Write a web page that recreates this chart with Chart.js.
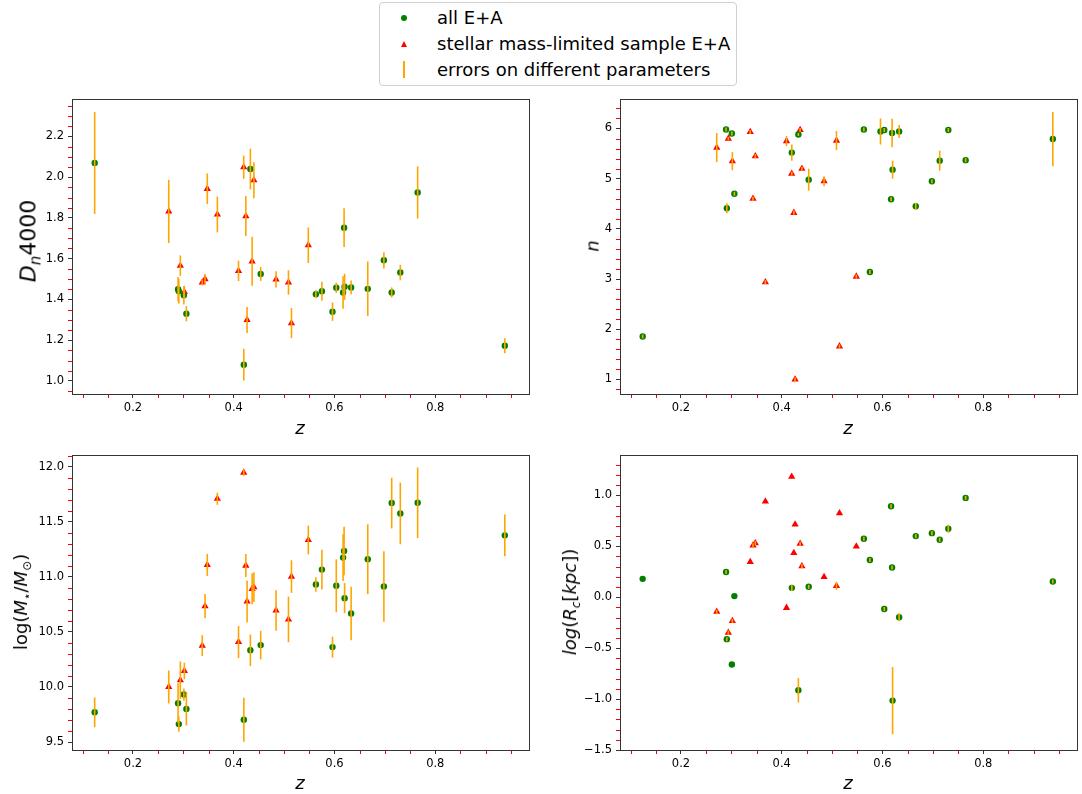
<!DOCTYPE html>
<html>
<head>
<meta charset="utf-8">
<script src="https://cdn.jsdelivr.net/npm/chart.js@4.4.0/dist/chart.umd.min.js"></script>
<style>
  body { margin: 0; background: #fff; font-family: "DejaVu Sans", sans-serif; }
  #wrap { position: relative; width: 1082px; height: 794px; overflow: hidden; }
  canvas { position: absolute; }
  .lab { position: absolute; font-size: 18px; color: #000; white-space: nowrap; transform: translate(-50%, -50%); }
  .ylab { transform: translate(-50%, -50%) rotate(-90deg); }
  .lab sub { font-size: 12px; vertical-align: -4px; }
  #legend { position: absolute; left: 379px; top: 2px; width: 356px; height: 82px; border: 1px solid #d0d0d0; border-radius: 4px; font-size: 18px; }
  .row { position: absolute; left: 57px; height: 26px; line-height: 26px; }
  .mk { position: absolute; }
</style>
</head>
<body>
<div id="wrap">
  <canvas id="c1" width="545" height="350" style="left:0;top:88px"></canvas>
  <canvas id="c2" width="534" height="350" style="left:548px;top:88px"></canvas>
  <canvas id="c3" width="545" height="350" style="left:0;top:444px"></canvas>
  <canvas id="c4" width="534" height="350" style="left:548px;top:444px"></canvas>

  <div class="lab ylab" style="left:30px;top:241px;font-size:22px"><i>D</i><sub style="font-size:15px;vertical-align:-5px"><i>n</i></sub>4000</div>
  <div class="lab ylab" style="left:592px;top:246px"><i>n</i></div>
  <div class="lab ylab" style="left:22px;top:602px">log(<i>M</i><sub>⋆</sub>/<i>M</i><sub>⊙</sub>)</div>
  <div class="lab ylab" style="left:571px;top:602px"><i>log</i>(<i>R</i><sub><i>c</i></sub>[<i>kpc</i>])</div>
  <div class="lab" style="left:300px;top:427px"><i>z</i></div>
  <div class="lab" style="left:848px;top:427px"><i>z</i></div>
  <div class="lab" style="left:300px;top:782px"><i>z</i></div>
  <div class="lab" style="left:848px;top:782px"><i>z</i></div>

  <div id="legend">
    <div class="mk" style="left:21px;top:12px;width:6px;height:6px;border-radius:50%;background:#008000"></div>
    <div class="mk" style="left:21px;top:38px;width:0;height:0;border-left:3px solid transparent;border-right:3px solid transparent;border-bottom:6px solid #ff0000"></div>
    <div class="mk" style="left:23px;top:58px;width:2px;height:17px;background:#ffa500"></div>
    <div class="row" style="top:2px">all E+A</div>
    <div class="row" style="top:28px">stellar mass-limited sample E+A</div>
    <div class="row" style="top:54px">errors on different parameters</div>
  </div>
</div>
<script>
// redshift of each galaxy
const greenZ = [0.124, 0.2895, 0.291, 0.301, 0.306, 0.420, 0.433, 0.4535, 0.563, 0.575, 0.596, 0.6035, 0.617, 0.619, 0.620, 0.633, 0.666, 0.698, 0.7135, 0.7306, 0.765, 0.938];
const redZ = [0.271, 0.294, 0.302, 0.3375, 0.343, 0.3475, 0.3675, 0.4095, 0.4198, 0.424, 0.4265, 0.4365, 0.440, 0.484, 0.5086, 0.5146, 0.548];

// Dn4000
const greenDn = [2.07, 1.45, 1.44, 1.42, 1.33, 1.08, 2.04, 1.525, 1.426, 1.44, 1.34, 1.457, 1.434, 1.752, 1.462, 1.459, 1.452, 1.592, 1.434, 1.532, 1.925, 1.173];
const greenDnErr = [0.25, 0.06, 0.06, 0.045, 0.037, 0.078, 0.10, 0.034, 0.02, 0.047, 0.045, 0.025, 0.08, 0.095, 0.064, 0.034, 0.134, 0.04, 0.025, 0.038, 0.128, 0.037];
const redDn = [1.832, 1.566, 1.437, 1.483, 1.50, 1.943, 1.817, 1.54, 2.049, 1.809, 1.299, 1.587, 1.985, 1.498, 1.483, 1.284, 1.666];
const redDnErr = [0.155, 0.05, 0.03, 0.015, 0.025, 0.075, 0.088, 0.05, 0.057, 0.098, 0.064, 0.12, 0.088, 0.04, 0.06, 0.074, 0.087];

// Sersic index n
const greenN = [1.856, 5.98, 4.41, 5.90, 4.70, 5.52, 5.88, 4.98, 5.98, 3.14, 5.94, 5.97, 4.59, 5.91, 5.18, 5.94, 4.45, 4.95, 5.36, 5.97, 5.37, 5.79];
const greenNErr = [0.04, 0.04, 0.1, 0.04, 0.04, 0.16, 0.03, 0.22, 0.04, 0.04, 0.26, 0.04, 0.04, 0.285, 0.18, 0.13, 0.07, 0.04, 0.2, 0.04, 0.04, 0.54];
const redN = [5.62, 5.80, 5.35, 5.93, 4.60, 5.45, 2.94, 5.75, 5.10, 4.32, 1.0, 5.97, 5.20, 4.95, 5.76, 1.66, 3.05];
const redNErr = [0.29, 0.03, 0.18, 0.04, 0.04, 0.04, 0.04, 0.1, 0.04, 0.04, 0.04, 0.04, 0.04, 0.1, 0.19, 0.04, 0.04];

// log stellar mass
const greenM = [9.77, 9.853, 9.663, 9.932, 9.80, 9.702, 10.333, 10.38, 10.93, 11.065, 10.362, 10.918, 11.174, 11.234, 10.806, 10.667, 11.159, 10.912, 11.669, 11.575, 11.672, 11.376];
const greenMErr = [0.135, 0.18, 0.07, 0.055, 0.15, 0.2, 0.143, 0.13, 0.065, 0.18, 0.095, 0.24, 0.213, 0.22, 0.137, 0.243, 0.317, 0.32, 0.23, 0.28, 0.32, 0.19];
const redM = [10.0, 10.061, 10.145, 10.375, 10.733, 11.108, 11.708, 10.408, 11.946, 11.102, 10.776, 10.891, 10.905, 10.694, 10.613, 11.002, 11.334];
const redMErr = [0.15, 0.17, 0.075, 0.095, 0.11, 0.1, 0.055, 0.146, 0.03, 0.105, 0.19, 0.14, 0.135, 0.184, 0.207, 0.148, 0.13];

// log Rc
const greenR = [0.18, 0.248, -0.412, -0.66, 0.011, 0.092, -0.914, 0.102, 0.574, 0.365, null, -0.116, 0.893, 0.291, -1.015, -0.197, 0.60, 0.629, 0.564, 0.672, 0.975, 0.154];
const greenRErr = [0, 0.02, 0.02, 0, 0, 0.03, 0.12, 0.02, 0.02, 0.02, 0, 0.02, 0.02, 0.02, 0.33, 0.04, 0.02, 0.02, 0.02, 0.04, 0.02, 0.02];
const redR = [-0.143, -0.348, -0.233, 0.346, 0.509, 0.531, 0.941, -0.104, 1.183, 0.434, 0.714, 0.525, 0.304, 0.199, 0.111, 0.824, 0.499];
const redRErr = [0.02, 0.02, 0.02, 0, 0.02, 0.02, 0, 0, 0, 0, 0, 0.02, 0.02, 0, 0.04, 0, 0];

// tick labels
const zTicks = [0.2, 0.4, 0.6, 0.8];
const dnTicks = [1.0, 1.2, 1.4, 1.6, 1.8, 2.0, 2.2];
const nTicks = [1, 2, 3, 4, 5, 6];
const mTicks = [9.5, 10.0, 10.5, 11.0, 11.5, 12.0];
const rTicks = [-1.5, -1.0, -0.5, 0.0, 0.5, 1.0];

function pts(xs, ys) {
  return xs.map((x, i) => ({ x: x, y: ys[i] })).filter(p => p.y !== null);
}
function errs(ys, es) {
  return ys.map((y, i) => es[i]).filter((e, i) => ys[i] !== null);
}

// draw orange error bars on top of the markers
const errorBars = {
  id: 'errorBars',
  afterDatasetsDraw(chart) {
    const ctx = chart.ctx, xs = chart.scales.x, ys = chart.scales.y;
    ctx.save();
    ctx.beginPath();
    ctx.rect(chart.chartArea.left, chart.chartArea.top, chart.chartArea.width, chart.chartArea.height);
    ctx.clip();
    ctx.strokeStyle = '#ffa500';
    ctx.lineWidth = 1.6;
    chart.data.datasets.forEach(ds => {
      if (!ds.errors) return;
      ds.data.forEach((p, i) => {
        const e = ds.errors[i];
        if (!e) return;
        const x = xs.getPixelForValue(p.x);
        ctx.beginPath();
        ctx.moveTo(x, ys.getPixelForValue(p.y - e));
        ctx.lineTo(x, ys.getPixelForValue(p.y + e));
        ctx.stroke();
      });
    });
    ctx.restore();
  }
};

// full frame and red minor ticks
const frameMinor = {
  id: 'frameMinor',
  afterDraw(chart, args, opts) {
    const ctx = chart.ctx, a = chart.chartArea;
    const xs = chart.scales.x, ys = chart.scales.y;
    ctx.save();
    ctx.strokeStyle = '#ff0000';
    ctx.lineWidth = 1;
    const near = (v, arr) => arr.some(t => Math.abs(t - v) < 1e-6);
    let start = Math.ceil(xs.min / opts.xStep - 1e-9);
    for (let k = start; k * opts.xStep <= xs.max; k++) {
      const v = k * opts.xStep;
      if (near(v, zTicks)) continue;
      const px = Math.round(xs.getPixelForValue(v)) + 0.5;
      ctx.beginPath(); ctx.moveTo(px, a.bottom); ctx.lineTo(px, a.bottom + 4); ctx.stroke();
    }
    start = Math.ceil(ys.min / opts.yStep - 1e-9);
    for (let k = start; k * opts.yStep <= ys.max; k++) {
      const v = k * opts.yStep;
      if (near(v, opts.major)) continue;
      const py = Math.round(ys.getPixelForValue(v)) + 0.5;
      ctx.beginPath(); ctx.moveTo(a.left, py); ctx.lineTo(a.left - 4, py); ctx.stroke();
    }
    ctx.strokeStyle = '#333';
    ctx.lineWidth = 1;
    ctx.strokeRect(Math.round(a.left) + 0.5, Math.round(a.top) + 0.5, Math.round(a.width), Math.round(a.height));
    ctx.restore();
  }
};

const tickFont = { family: 'DejaVu Sans', size: 11.5 };

function makeChart(id, g, ge, r, re, yMin, yMax, yTicks, yStep, fmt, padRight) {
  return new Chart(document.getElementById(id), {
    type: 'scatter',
    data: {
      datasets: [
        { data: pts(greenZ, g), errors: errs(g, ge), pointStyle: 'circle', pointRadius: 3.2,
          backgroundColor: '#008000', borderColor: '#008000', borderWidth: 0 },
        { data: pts(redZ, r), errors: errs(r, re), pointStyle: 'triangle', pointRadius: 4.2,
          backgroundColor: '#ff0000', borderColor: '#ff0000', borderWidth: 0 }
      ]
    },
    options: {
      responsive: false,
      animation: false,
      devicePixelRatio: 1,
      layout: { padding: { top: 10, right: padRight, left: 0, bottom: 0 } },
      plugins: {
        legend: { display: false },
        tooltip: { enabled: false },
        frameMinor: { xStep: 0.05, yStep: yStep, major: yTicks }
      },
      scales: {
        x: {
          type: 'linear', min: 0.079, max: 0.986,
          afterBuildTicks: s => { s.ticks = zTicks.map(v => ({ value: v })); },
          afterFit: s => { s.height = 44; },
          ticks: { font: tickFont, color: '#000', padding: 3, callback: v => v.toFixed(1) },
          grid: { drawOnChartArea: false, drawTicks: true, tickLength: 4, tickColor: '#333' },
          border: { display: false }
        },
        y: {
          type: 'linear', min: yMin, max: yMax,
          afterBuildTicks: s => { s.ticks = yTicks.map(v => ({ value: v })); },
          afterFit: s => { s.width = 72; },
          ticks: { font: tickFont, color: '#000', padding: 4, callback: fmt },
          grid: { drawOnChartArea: false, drawTicks: true, tickLength: 4, tickColor: '#333' },
          border: { display: false }
        }
      }
    },
    plugins: [errorBars, frameMinor]
  });
}

const oneDec = v => v.toFixed(1).replace('-', '\u2212');

makeChart('c1', greenDn, greenDnErr, redDn, redDnErr, 0.936, 2.384, dnTicks, 0.05, oneDec, 16);
makeChart('c2', greenN, greenNErr, redN, redNErr, 0.71, 6.59, nTicks, 0.2, v => String(v), 5);
makeChart('c3', greenM, greenMErr, redM, redMErr, 9.428, 12.106, mTicks, 0.1, oneDec, 16);
makeChart('c4', greenR, greenRErr, redR, redRErr, -1.5, 1.397, rTicks, 0.1, oneDec, 5);
</script>
</body>
</html>
